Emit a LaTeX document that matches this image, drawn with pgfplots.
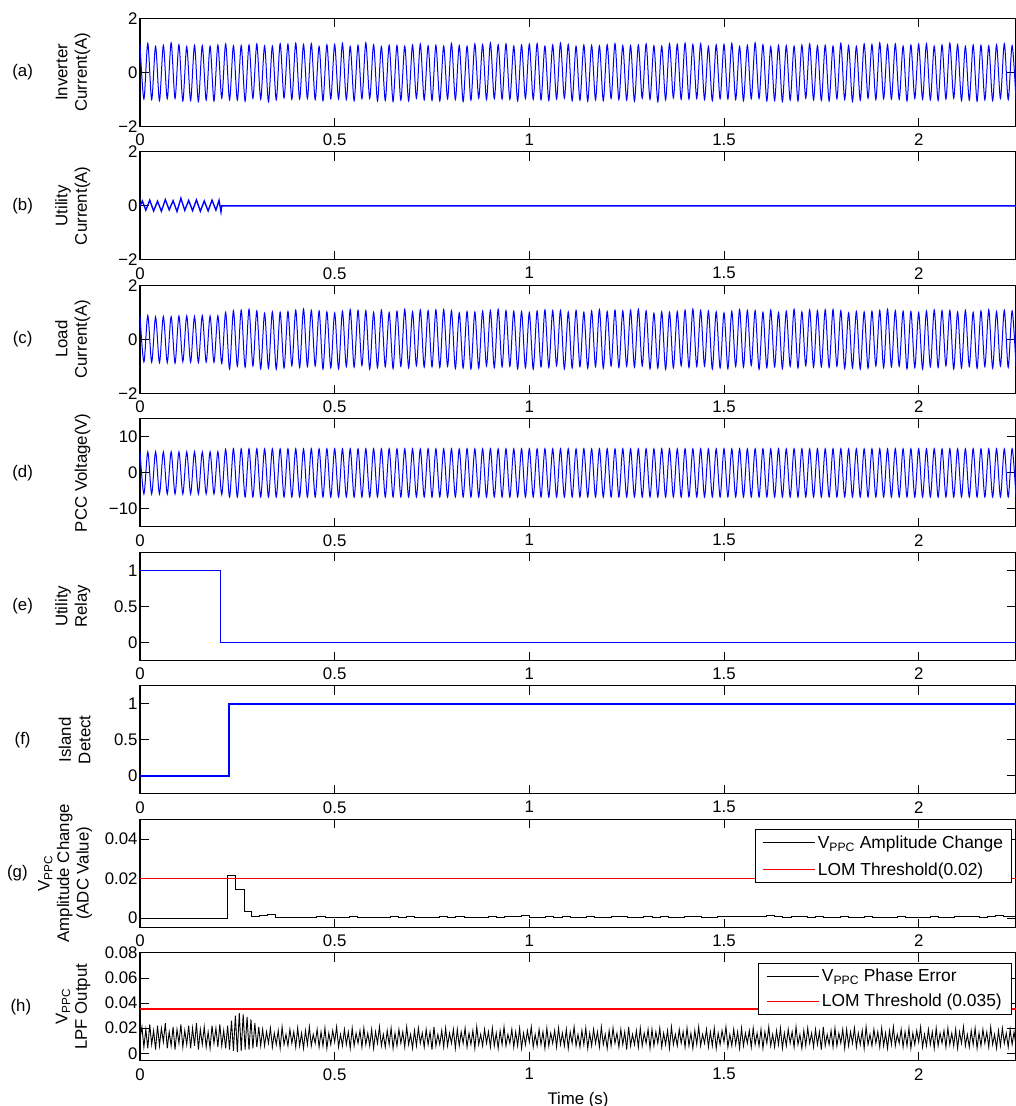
\documentclass[border=0pt]{standalone}
\usepackage{fontspec}
\setmainfont{Liberation Sans}
\usepackage{pgfplots}
\pgfplotsset{compat=1.18}
\usepackage{pgfplotstable}
\newcommand\pf{\fontsize{16.8}{19.5}\selectfont}
\newcommand\lf{\fontsize{17.4}{20}\selectfont}
\definecolor{mblue}{rgb}{0,0,1}
\definecolor{mred}{rgb}{1,0,0}

\pgfplotstableread{
t a c d
0.00 1.03 0.86 5.82
0.01 -0.99 -0.84 -5.86
0.02 1.07 0.88 5.80
0.03 -1.01 -0.85 -5.88
0.04 0.96 0.83 5.84
0.05 -1.05 -0.87 -5.85
0.06 1.00 0.85 5.81
0.07 -0.98 -0.86 -5.87
0.08 1.09 0.84 5.83
0.09 -0.97 -0.88 -5.86
0.10 1.02 0.86 5.80
0.11 -1.06 -0.83 -5.88
0.12 0.95 0.87 5.82
0.13 -1.04 -0.85 -5.85
0.14 1.00 0.84 5.84
0.15 -1.08 -0.86 -5.87
0.16 0.99 0.88 5.81
0.17 -1.03 -0.84 -5.86
0.18 0.97 0.86 5.83
0.19 -1.06 -0.85 -5.88
0.20 1.01 0.87 5.85
0.21 -0.96 -0.90 -6.05
0.22 1.05 1.00 6.50
0.23 -1.02 -1.10 -6.72
0.24 0.98 1.06 6.70
0.25 -1.03 -1.00 -6.74
0.26 0.99 1.08 6.66
0.27 -1.07 -1.03 -6.72
0.28 1.01 1.11 6.68
0.29 -0.96 -0.99 -6.75
0.30 1.05 1.05 6.69
0.31 -1.00 -1.09 -6.71
0.32 0.98 0.97 6.65
0.33 -1.09 -1.07 -6.73
0.34 0.97 1.02 6.70
0.35 -1.02 -1.11 -6.74
0.36 1.06 1.00 6.66
0.37 -0.95 -1.06 -6.72
0.38 1.04 1.03 6.68
0.39 -1.00 -0.98 -6.75
0.40 1.08 1.08 6.69
0.41 -0.99 -1.04 -6.71
0.42 1.03 1.12 6.65
0.43 -0.97 -1.01 -6.73
0.44 1.06 1.07 6.70
0.45 -1.01 -0.99 -6.74
0.46 0.96 1.05 6.66
0.47 -1.05 -1.10 -6.72
0.48 1.02 1.02 6.68
0.49 -0.98 -1.06 -6.75
0.50 1.03 0.98 6.69
0.51 -0.99 -1.09 -6.71
0.52 1.07 1.04 6.65
0.53 -1.01 -1.01 -6.73
0.54 0.96 1.10 6.70
0.55 -1.05 -1.03 -6.74
0.56 1.00 1.07 6.66
0.57 -0.98 -0.97 -6.72
0.58 1.09 1.06 6.68
0.59 -0.97 -1.11 -6.75
0.60 1.02 1.00 6.69
0.61 -1.06 -1.05 -6.71
0.62 0.95 1.08 6.65
0.63 -1.04 -1.02 -6.73
0.64 1.00 0.99 6.70
0.65 -1.08 -1.08 -6.74
0.66 0.99 1.04 6.66
0.67 -1.03 -1.00 -6.72
0.68 0.97 1.11 6.68
0.69 -1.06 -1.06 -6.75
0.70 1.01 1.02 6.69
0.71 -0.96 -0.98 -6.71
0.72 1.05 1.09 6.65
0.73 -1.02 -1.03 -6.73
0.74 0.98 1.06 6.70
0.75 -1.04 -1.02 -6.74
0.76 1.00 1.09 6.66
0.77 -1.06 -1.04 -6.72
0.78 0.97 1.10 6.68
0.79 -0.98 -1.00 -6.75
0.80 1.07 1.06 6.69
0.81 -1.01 -1.08 -6.71
0.82 0.99 0.98 6.65
0.83 -1.08 -1.06 -6.73
0.84 0.96 1.03 6.70
0.85 -1.03 -1.10 -6.74
0.86 1.05 1.01 6.66
0.87 -0.96 -1.07 -6.72
0.88 1.03 1.04 6.68
0.89 -1.01 -0.99 -6.75
0.90 1.09 1.07 6.69
0.91 -0.98 -1.05 -6.71
0.92 1.02 1.11 6.65
0.93 -0.99 -1.02 -6.73
0.94 1.05 1.06 6.70
0.95 -1.00 -1.00 -6.74
0.96 0.97 1.04 6.66
0.97 -1.06 -1.09 -6.72
0.98 1.01 1.03 6.68
0.99 -0.97 -1.05 -6.75
1.00 1.04 0.99 6.69
1.01 -1.00 -1.10 -6.71
1.02 1.06 1.05 6.65
1.03 -1.02 -1.02 -6.73
1.04 0.97 1.09 6.70
1.05 -1.04 -1.04 -6.74
1.06 1.01 1.06 6.66
1.07 -0.99 -0.98 -6.72
1.08 1.08 1.07 6.68
1.09 -0.96 -1.10 -6.75
1.10 1.03 1.01 6.69
1.11 -1.05 -1.06 -6.71
1.12 0.96 1.07 6.65
1.13 -1.03 -1.01 -6.73
1.14 1.01 1.00 6.70
1.15 -1.07 -1.07 -6.74
1.16 1.00 1.05 6.66
1.17 -1.02 -1.01 -6.72
1.18 0.98 1.10 6.68
1.19 -1.05 -1.07 -6.75
1.20 1.02 1.03 6.69
1.21 -0.97 -0.99 -6.71
1.22 1.06 1.08 6.65
1.23 -1.01 -1.04 -6.73
1.24 0.99 1.05 6.70
1.25 -1.03 -1.00 -6.74
1.26 0.99 1.08 6.66
1.27 -1.07 -1.03 -6.72
1.28 1.01 1.11 6.68
1.29 -0.96 -0.99 -6.75
1.30 1.05 1.05 6.69
1.31 -1.00 -1.09 -6.71
1.32 0.98 0.97 6.65
1.33 -1.09 -1.07 -6.73
1.34 0.97 1.02 6.70
1.35 -1.02 -1.11 -6.74
1.36 1.06 1.00 6.66
1.37 -0.95 -1.06 -6.72
1.38 1.04 1.03 6.68
1.39 -1.00 -0.98 -6.75
1.40 1.08 1.08 6.69
1.41 -0.99 -1.04 -6.71
1.42 1.03 1.12 6.65
1.43 -0.97 -1.01 -6.73
1.44 1.06 1.07 6.70
1.45 -1.01 -0.99 -6.74
1.46 0.96 1.05 6.66
1.47 -1.05 -1.10 -6.72
1.48 1.02 1.02 6.68
1.49 -0.98 -1.06 -6.75
1.50 1.03 0.98 6.69
1.51 -0.99 -1.09 -6.71
1.52 1.07 1.04 6.65
1.53 -1.01 -1.01 -6.73
1.54 0.96 1.10 6.70
1.55 -1.05 -1.03 -6.74
1.56 1.00 1.07 6.66
1.57 -0.98 -0.97 -6.72
1.58 1.09 1.06 6.68
1.59 -0.97 -1.11 -6.75
1.60 1.02 1.00 6.69
1.61 -1.06 -1.05 -6.71
1.62 0.95 1.08 6.65
1.63 -1.04 -1.02 -6.73
1.64 1.00 0.99 6.70
1.65 -1.08 -1.08 -6.74
1.66 0.99 1.04 6.66
1.67 -1.03 -1.00 -6.72
1.68 0.97 1.11 6.68
1.69 -1.06 -1.06 -6.75
1.70 1.01 1.02 6.69
1.71 -0.96 -0.98 -6.71
1.72 1.05 1.09 6.65
1.73 -1.02 -1.03 -6.73
1.74 0.98 1.06 6.70
1.75 -1.04 -1.02 -6.74
1.76 1.00 1.09 6.66
1.77 -1.06 -1.04 -6.72
1.78 0.97 1.10 6.68
1.79 -0.98 -1.00 -6.75
1.80 1.07 1.06 6.69
1.81 -1.01 -1.08 -6.71
1.82 0.99 0.98 6.65
1.83 -1.08 -1.06 -6.73
1.84 0.96 1.03 6.70
1.85 -1.03 -1.10 -6.74
1.86 1.05 1.01 6.66
1.87 -0.96 -1.07 -6.72
1.88 1.03 1.04 6.68
1.89 -1.01 -0.99 -6.75
1.90 1.09 1.07 6.69
1.91 -0.98 -1.05 -6.71
1.92 1.02 1.11 6.65
1.93 -0.99 -1.02 -6.73
1.94 1.05 1.06 6.70
1.95 -1.00 -1.00 -6.74
1.96 0.97 1.04 6.66
1.97 -1.06 -1.09 -6.72
1.98 1.01 1.03 6.68
1.99 -0.97 -1.05 -6.75
2.00 1.04 0.99 6.69
2.01 -1.00 -1.10 -6.71
2.02 1.06 1.05 6.65
2.03 -1.02 -1.02 -6.73
2.04 0.97 1.09 6.70
2.05 -1.04 -1.04 -6.74
2.06 1.01 1.06 6.66
2.07 -0.99 -0.98 -6.72
2.08 1.08 1.07 6.68
2.09 -0.96 -1.10 -6.75
2.10 1.03 1.01 6.69
2.11 -1.05 -1.06 -6.71
2.12 0.96 1.07 6.65
2.13 -1.03 -1.01 -6.73
2.14 1.01 1.00 6.70
2.15 -1.07 -1.07 -6.74
2.16 1.00 1.05 6.66
2.17 -1.02 -1.01 -6.72
2.18 0.98 1.10 6.68
2.19 -1.05 -1.07 -6.75
2.20 1.02 1.03 6.69
2.21 -0.97 -0.99 -6.71
2.22 1.06 1.08 6.65
2.23 -1.01 -1.04 -6.73
2.24 0.99 1.05 6.70
2.25 -1.03 -1.00 -6.74
}\maindata

\pgfplotsset{
  panel/.style={
    width=876pt, height=108pt, scale only axis,
    xmin=0, xmax=2.25,
    xtick={0,0.5,1,1.5,2}, xticklabels={0,0.5,1,1.5,2},
    scaled x ticks=false, scaled y ticks=false,
    tick align=inside, major tick length=8.7pt,
    axis line style={line width=1.1pt},
    tick style={line width=0.7pt, black},
    font=\pf,
    clip mode=individual,
    /pgf/number format/assume math mode=true,
    xticklabel style={yshift=-4pt},
    yticklabel style={xshift=1pt},
    every axis y label/.style={at={(axis description cs:-0.0525,0.5)}, rotate=90, anchor=south, align=center, font=\pf},
    legend cell align=left,
  },
  bl/.style={draw=mblue, line width=1pt},
  blt/.style={draw=mblue, line width=1.4pt},
  rdt/.style={draw=mred, line width=1.7pt},
  lg/.style={legend image code/.code={\draw[##1] (0pt,0pt) -- (52pt,0pt);}},
}

\begin{document}
\begin{tikzpicture}
% (a)
\begin{axis}[panel, at={(140pt,-18.3pt)}, anchor=north west,
  ymin=-2, ymax=2, ytick={-2,0,2}, yticklabels={−2,0,2},
  ylabel={Inverter\\Current(A)}]
\addplot[bl, smooth] table[x=t, y=a] {\maindata};
\node[font=\pf] at (axis description cs:-0.134,0.5) {(a)};
\end{axis}
% (b)
\begin{axis}[panel, at={(140pt,-151.8pt)}, anchor=north west,
  ymin=-2, ymax=2, ytick={-2,0,2}, yticklabels={−2,0,2},
  ylabel={Utility\\Current(A)}]
\addplot[blt] coordinates {(0,0)(0.006,0.18)(0.015,-0.16)(0.025,0.21)(0.035,-0.19)(0.045,0.17)(0.055,-0.2)(0.065,0.23)(0.075,-0.15)(0.085,0.19)(0.095,-0.21)(0.105,0.28)(0.115,-0.17)(0.125,0.2)(0.135,-0.18)(0.145,0.22)(0.155,-0.2)(0.165,0.18)(0.175,-0.19)(0.185,0.21)(0.195,-0.16)(0.203,0.2)(0.208,-0.22)(0.21,0)(2.25,0)};
\node[font=\pf] at (axis description cs:-0.134,0.5) {(b)};
\end{axis}
% (c)
\begin{axis}[panel, at={(140pt,-285.3pt)}, anchor=north west,
  ymin=-2, ymax=2, ytick={-2,0,2}, yticklabels={−2,0,2},
  ylabel={Load\\Current(A)}]
\addplot[bl, smooth] table[x=t, y=c] {\maindata};
\node[font=\pf] at (axis description cs:-0.134,0.5) {(c)};
\end{axis}
% (d)
\begin{axis}[panel, at={(140pt,-418.8pt)}, anchor=north west,
  ymin=-15, ymax=15, ytick={-10,0,10}, yticklabels={−10,0,10},
  ylabel={PCC Voltage(V)}]
\addplot[bl, smooth] table[x=t, y=d] {\maindata};
\node[font=\pf] at (axis description cs:-0.134,0.5) {(d)};
\end{axis}
% (e)
\begin{axis}[panel, at={(140pt,-552.3pt)}, anchor=north west,
  ymin=-0.25, ymax=1.25, ytick={0,0.5,1}, yticklabels={0,0.5,1},
  ylabel={Utility\\Relay}]
\addplot[blt] coordinates {(0,1)(0.207,1)(0.207,0)(2.25,0)};
\node[font=\pf] at (axis description cs:-0.134,0.5) {(e)};
\end{axis}
% (f)
\begin{axis}[panel, at={(140pt,-685.8pt)}, anchor=north west,
  ymin=-0.25, ymax=1.25, ytick={0,0.5,1}, yticklabels={0,0.5,1},
  ylabel={Island\\Detect}]
\addplot[blt] coordinates {(0,0)(0.229,0)(0.229,1)(2.25,1)};
\node[font=\pf] at (axis description cs:-0.134,0.5) {(f)};
\end{axis}
% (g)
\begin{axis}[panel, lg, at={(140pt,-819.3pt)}, anchor=north west,
  ymin=-0.0047, ymax=0.05, ytick={0,0.02,0.04}, yticklabels={0,0.02,0.04},
  ylabel={V\textsubscript{PPC}\\Amplitude Change\\(ADC Value)},
  ylabel style={at={(axis description cs:-0.0505,0.5)}},
  legend style={at={(0.9954,0.907)}, anchor=north east, draw=black, line width=0.9pt, font=\lf, row sep=8.5pt, inner xsep=6.5pt, inner ysep=4pt}]
\addplot[black, line width=0.8pt, const plot] coordinates {(0,0)(0.224,0.0215)(0.245,0.0144)(0.268,0.0032)(0.287,0.0007)(0.306,0.0012)(0.327,0.0020)(0.349,0.0002)
(0.37,0.0002)(0.391,0.0003)(0.412,0.0002)(0.433,0.0003)(0.454,0.0006)(0.475,0.0004)(0.496,0.0005)(0.517,0.0003)(0.538,0.0006)(0.559,0.0004)(0.58,0.0002)(0.601,0.0005)(0.622,0.0003)(0.643,0.0006)(0.664,0.0004)(0.685,0.0007)(0.706,0.0004)(0.727,0.0003)(0.748,0.0005)(0.769,0.0008)(0.79,0.0004)(0.811,0.0006)(0.832,0.0003)(0.853,0.0005)(0.874,0.0004)(0.895,0.0007)(0.916,0.0005)(0.937,0.0010)(0.958,0.0006)(0.979,0.0011)(1.0,0.0005)(1.021,0.0004)(1.042,0.0008)(1.063,0.0004)(1.084,0.0006)(1.105,0.0005)(1.126,0.0003)(1.147,0.0007)(1.168,0.0005)(1.189,0.0004)(1.21,0.0006)(1.231,0.0008)(1.252,0.0005)(1.273,0.0003)(1.294,0.0006)(1.315,0.0004)(1.336,0.0007)(1.357,0.0005)(1.378,0.0004)(1.399,0.0006)(1.42,0.0008)(1.441,0.0005)(1.462,0.0004)(1.483,0.0006)(1.504,0.0010)(1.525,0.0009)(1.546,0.0007)(1.567,0.0010)(1.588,0.0006)(1.609,0.0011)(1.63,0.0007)(1.651,0.0005)(1.672,0.0008)(1.693,0.0006)(1.714,0.0004)(1.735,0.0006)(1.756,0.0004)(1.777,0.0005)(1.798,0.0007)(1.819,0.0005)(1.84,0.0004)(1.861,0.0006)(1.882,0.0003)(1.903,0.0005)(1.924,0.0004)(1.945,0.0006)(1.966,0.0005)(1.987,0.0003)(2.008,0.0005)(2.029,0.0007)(2.05,0.0005)(2.071,0.0004)(2.092,0.0008)(2.113,0.0006)(2.134,0.0009)(2.155,0.0005)(2.176,0.0006)(2.197,0.0011)(2.218,0.0007)(2.25,0.0007)};
\addlegendentry{V\textsubscript{PPC} Amplitude Change}
\addplot[rdt] coordinates {(0,0.02)(2.25,0.02)};
\addlegendentry{LOM Threshold(0.02)}
\node[font=\pf] at (axis description cs:-0.14,0.5) {(g)};
\end{axis}
% (h)
\begin{axis}[panel, lg, at={(140pt,-952.8pt)}, anchor=north west,
  ymin=-0.006, ymax=0.08, ytick={0,0.02,0.04,0.06,0.08}, yticklabels={0,0.02,0.04,0.06,0.08},
  ylabel={V\textsubscript{PPC}\\LPF Output},
  xlabel={Time (s)}, xlabel style={yshift=-5pt},
  legend style={at={(0.9957,0.908)}, anchor=north east, draw=black, line width=0.9pt, font=\lf, row sep=7pt, inner xsep=8pt, inner ysep=4pt}]
\addplot[black, line width=0.9pt] coordinates {
(0,0.012)(0.005,0.021)(0.01,0.005)(0.015,0.019)(0.02,0.004)(0.025,0.023)(0.03,0.007)(0.035,0.018)(0.04,0.003)(0.045,0.022)
(0.05,0.006)(0.055,0.020)(0.06,0.009)(0.065,0.024)(0.07,0.004)(0.075,0.017)(0.08,0.006)(0.085,0.021)(0.09,0.003)(0.095,0.019)
(0.1,0.008)(0.105,0.023)(0.11,0.005)(0.115,0.018)(0.12,0.007)(0.125,0.022)(0.13,0.004)(0.135,0.020)(0.14,0.006)(0.145,0.024)
(0.15,0.003)(0.155,0.019)(0.16,0.007)(0.165,0.021)(0.17,0.005)(0.175,0.017)(0.18,0.004)(0.185,0.022)(0.19,0.008)(0.195,0.020)
(0.2,0.005)(0.205,0.023)(0.21,0.006)(0.215,0.018)(0.22,0.004)(0.225,0.022)(0.23,0.003)(0.235,0.026)(0.24,0.002)(0.245,0.030)
(0.25,0.001)(0.255,0.032)(0.26,0.002)(0.265,0.031)(0.27,0.003)(0.275,0.029)(0.28,0.003)(0.285,0.027)(0.29,0.004)(0.295,0.024)
(0.3,0.005)(0.305,0.021)(0.31,0.006)
(0.315,0.019)(0.32,0.006)(0.325,0.017)(0.33,0.008)(0.335,0.020)(0.34,0.005)(0.345,0.016)(0.35,0.007)(0.355,0.018)(0.36,0.004)
(0.365,0.021)(0.37,0.007)(0.375,0.015)(0.38,0.006)(0.385,0.019)(0.39,0.008)(0.395,0.017)(0.4,0.005)(0.405,0.020)(0.41,0.006)
(0.415,0.016)(0.42,0.004)(0.425,0.018)(0.43,0.007)(0.435,0.021)(0.44,0.006)(0.445,0.015)(0.45,0.008)(0.455,0.019)(0.46,0.005)
(0.465,0.017)(0.47,0.006)(0.475,0.020)(0.48,0.004)(0.485,0.016)(0.49,0.007)(0.495,0.018)(0.5,0.009)(0.505,0.021)(0.51,0.005)
(0.515,0.015)(0.52,0.006)(0.525,0.019)(0.53,0.007)(0.535,0.017)(0.54,0.004)(0.545,0.020)(0.55,0.006)(0.555,0.016)(0.56,0.008)
(0.565,0.018)(0.57,0.005)(0.575,0.020)(0.58,0.007)(0.585,0.016)(0.59,0.006)(0.595,0.019)(0.6,0.004)(0.605,0.017)(0.61,0.008)
(0.615,0.021)(0.62,0.006)(0.625,0.015)(0.63,0.005)(0.635,0.018)(0.64,0.007)(0.645,0.020)(0.65,0.004)(0.655,0.016)(0.66,0.006)
(0.665,0.019)(0.67,0.008)(0.675,0.017)(0.68,0.005)(0.685,0.021)(0.69,0.007)(0.695,0.015)(0.7,0.004)(0.705,0.018)(0.71,0.006)
(0.715,0.020)(0.72,0.008)(0.725,0.016)(0.73,0.005)(0.735,0.019)(0.74,0.007)(0.745,0.017)(0.75,0.003)(0.755,0.021)(0.76,0.006)
(0.765,0.015)(0.77,0.007)(0.775,0.018)(0.78,0.005)(0.785,0.020)(0.79,0.006)(0.795,0.016)(0.8,0.008)(0.805,0.019)(0.81,0.004)
(0.815,0.019)(0.82,0.006)(0.825,0.017)(0.83,0.008)(0.835,0.020)(0.84,0.005)(0.845,0.016)(0.85,0.007)(0.855,0.018)(0.86,0.004)
(0.865,0.021)(0.87,0.007)(0.875,0.015)(0.88,0.006)(0.885,0.019)(0.89,0.008)(0.895,0.017)(0.9,0.005)(0.905,0.020)(0.91,0.006)
(0.915,0.016)(0.92,0.004)(0.925,0.018)(0.93,0.007)(0.935,0.021)(0.94,0.006)(0.945,0.015)(0.95,0.008)(0.955,0.019)(0.96,0.005)
(0.965,0.017)(0.97,0.006)(0.975,0.020)(0.98,0.004)(0.985,0.016)(0.99,0.007)(0.995,0.018)(1,0.009)(1.005,0.021)(1.01,0.005)
(1.015,0.015)(1.02,0.006)(1.025,0.019)(1.03,0.007)(1.035,0.017)(1.04,0.004)(1.045,0.020)(1.05,0.006)(1.055,0.016)(1.06,0.008)
(1.065,0.018)(1.07,0.005)(1.075,0.020)(1.08,0.007)(1.085,0.016)(1.09,0.006)(1.095,0.019)(1.1,0.004)(1.105,0.017)(1.11,0.008)
(1.115,0.021)(1.12,0.006)(1.125,0.015)(1.13,0.005)(1.135,0.018)(1.14,0.007)(1.145,0.020)(1.15,0.004)(1.155,0.016)(1.16,0.006)
(1.165,0.019)(1.17,0.008)(1.175,0.017)(1.18,0.005)(1.185,0.021)(1.19,0.007)(1.195,0.015)(1.2,0.004)(1.205,0.018)(1.21,0.006)
(1.215,0.020)(1.22,0.008)(1.225,0.016)(1.23,0.005)(1.235,0.019)(1.24,0.007)(1.245,0.017)(1.25,0.003)(1.255,0.021)(1.26,0.006)
(1.265,0.015)(1.27,0.007)(1.275,0.018)(1.28,0.005)(1.285,0.020)(1.29,0.006)(1.295,0.016)(1.3,0.008)(1.305,0.019)(1.31,0.004)
(1.315,0.019)(1.32,0.006)(1.325,0.017)(1.33,0.008)(1.335,0.020)(1.34,0.005)(1.345,0.016)(1.35,0.007)(1.355,0.018)(1.36,0.004)
(1.365,0.021)(1.37,0.007)(1.375,0.015)(1.38,0.006)(1.385,0.019)(1.39,0.008)(1.395,0.017)(1.4,0.005)(1.405,0.020)(1.41,0.006)
(1.415,0.016)(1.42,0.004)(1.425,0.018)(1.43,0.007)(1.435,0.021)(1.44,0.006)(1.445,0.015)(1.45,0.008)(1.455,0.019)(1.46,0.005)
(1.465,0.017)(1.47,0.006)(1.475,0.020)(1.48,0.004)(1.485,0.016)(1.49,0.007)(1.495,0.018)(1.5,0.009)(1.505,0.021)(1.51,0.005)
(1.515,0.015)(1.52,0.006)(1.525,0.019)(1.53,0.007)(1.535,0.017)(1.54,0.004)(1.545,0.020)(1.55,0.006)(1.555,0.016)(1.56,0.008)
(1.565,0.018)(1.57,0.005)(1.575,0.020)(1.58,0.007)(1.585,0.016)(1.59,0.006)(1.595,0.019)(1.6,0.004)(1.605,0.017)(1.61,0.008)
(1.615,0.021)(1.62,0.006)(1.625,0.015)(1.63,0.005)(1.635,0.018)(1.64,0.007)(1.645,0.020)(1.65,0.004)(1.655,0.016)(1.66,0.006)
(1.665,0.019)(1.67,0.008)(1.675,0.017)(1.68,0.005)(1.685,0.021)(1.69,0.007)(1.695,0.015)(1.7,0.004)(1.705,0.018)(1.71,0.006)
(1.715,0.020)(1.72,0.008)(1.725,0.016)(1.73,0.005)(1.735,0.019)(1.74,0.007)(1.745,0.017)(1.75,0.003)(1.755,0.021)(1.76,0.006)
(1.765,0.015)(1.77,0.007)(1.775,0.018)(1.78,0.005)(1.785,0.020)(1.79,0.006)(1.795,0.016)(1.8,0.008)(1.805,0.019)(1.81,0.004)
(1.815,0.019)(1.82,0.006)(1.825,0.017)(1.83,0.008)(1.835,0.020)(1.84,0.005)(1.845,0.016)(1.85,0.007)(1.855,0.018)(1.86,0.004)
(1.865,0.021)(1.87,0.007)(1.875,0.015)(1.88,0.006)(1.885,0.019)(1.89,0.008)(1.895,0.017)(1.9,0.005)(1.905,0.020)(1.91,0.006)
(1.915,0.016)(1.92,0.004)(1.925,0.018)(1.93,0.007)(1.935,0.021)(1.94,0.006)(1.945,0.015)(1.95,0.008)(1.955,0.019)(1.96,0.005)
(1.965,0.017)(1.97,0.006)(1.975,0.020)(1.98,0.004)(1.985,0.016)(1.99,0.007)(1.995,0.018)(2,0.009)(2.005,0.021)(2.01,0.005)
(2.015,0.015)(2.02,0.006)(2.025,0.019)(2.03,0.007)(2.035,0.017)(2.04,0.004)(2.045,0.020)(2.05,0.006)(2.055,0.016)(2.06,0.008)
(2.065,0.018)(2.07,0.005)(2.075,0.020)(2.08,0.007)(2.085,0.016)(2.09,0.006)(2.095,0.019)(2.1,0.004)(2.105,0.017)(2.11,0.008)
(2.115,0.021)(2.12,0.006)(2.125,0.015)(2.13,0.005)(2.135,0.018)(2.14,0.007)(2.145,0.020)(2.15,0.004)(2.155,0.016)(2.16,0.006)
(2.165,0.019)(2.17,0.008)(2.175,0.017)(2.18,0.005)(2.185,0.021)(2.19,0.007)(2.195,0.015)(2.2,0.004)(2.205,0.018)(2.21,0.006)
(2.215,0.020)(2.22,0.008)(2.225,0.016)(2.23,0.005)(2.235,0.019)(2.24,0.007)(2.245,0.017)(2.25,0.006)};
\addlegendentry{V\textsubscript{PPC} Phase Error}
\addplot[rdt] coordinates {(0,0.035)(2.25,0.035)};
\addlegendentry{LOM Threshold (0.035)}
\node[font=\pf] at (axis description cs:-0.136,0.5) {(h)};
\end{axis}
\pgfresetboundingbox
\path[use as bounding box] (0,0) rectangle (1016pt,-1106pt);
\end{tikzpicture}
\end{document}
